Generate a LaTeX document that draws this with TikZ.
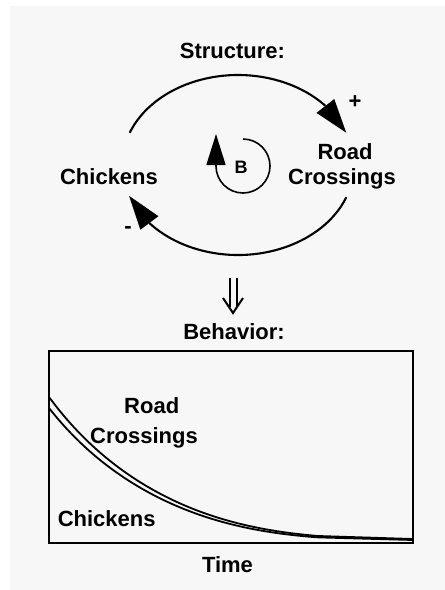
\documentclass[tikz,border=0pt]{standalone}
\usepackage{fontspec}
\setmainfont{Liberation Sans}
\usetikzlibrary{arrows.meta,bending}
\definecolor{bg}{HTML}{F7F7F7}
\begin{document}
\begin{tikzpicture}[x=1pt,y=1pt,
  lbl/.style={font=\fontsize{22}{26}\selectfont\bfseries, inner sep=0pt, anchor=base},
  sign/.style={font=\fontsize{22}{26}\selectfont\bfseries, inner sep=0pt, anchor=center},
  link/.style={line width=2.1pt, -{Triangle[length=34pt,width=22pt]}},
  curve/.style={line width=1.8pt},
  frame/.style={line width=2pt}]
\useasboundingbox (0,0) rectangle (445,-590);
\fill[white] (0,0) rectangle (445,-590);
\fill[bg] (10,-6) rectangle (445,-590);

% structure
\node[lbl] (structure) at (232.5,-58) {Structure:};
\node[lbl] (chickens) at (109,-184) {Chickens};
\node[lbl] (road) at (345,-159) {Road};
\node[lbl] (crossings) at (342,-184) {Crossings};
\node[sign] (plus) at (355,-102) {+};
\node[sign] (minus) at (128,-230) {-};

\coordinate (C) at (238,-165);
\path (C) ++(159:116 and 90) coordinate (a1);
\path (C) ++(-21:116 and 90) coordinate (b1);
\draw[link] (a1) arc[start angle=159,end angle=21,x radius=116,y radius=90];
\draw[link] (b1) arc[start angle=-21,end angle=-160,x radius=116,y radius=90];

% B loop
\coordinate (L) at (243,-166);
\node[font=\fontsize{18}{21}\selectfont\bfseries, inner sep=0pt, anchor=base] (B) at (241,-173) {B};
\draw[line width=1.6pt, -{Triangle[length=31pt,width=19pt]}] (L) ++(0,27) arc[start angle=90,end angle=-180,radius=27] -- ++(0,32);

% double arrow
\coordinate (dtop) at (233,-278);
\coordinate (dtip) at (233,-313);
\draw[line width=2pt] ([xshift=-3.5pt]dtop) -- ++(0,-29);
\draw[line width=2pt] ([xshift=3.5pt]dtop) -- ++(0,-29);
\draw[line width=2pt, line join=miter] ([shift={(-10,15)}]dtip) -- (dtip) -- ([shift={(10,15)}]dtip);

% behavior
\node[lbl] (behavior) at (234,-339) {Behavior:};
\coordinate (g1) at (49,-351);
\coordinate (g2) at (413,-543);
\draw[frame] (g1) rectangle (g2);

\draw[curve] plot[domain=0:269, samples=80] ({49+\x}, {-(540-143*exp(-0.0095*\x-0.052*(\x/100)^3))}) -- (413,-539);
\draw[curve] plot[domain=0:269, samples=80] ({49+\x}, {-(540-143*exp(-0.0095*\x-0.052*(\x/100)^3)+11*exp(-\x/130))}) -- (413,-540);

\node[lbl] (groad) at (151.7,-413) {Road};
\node[lbl] (gcross) at (144,-443) {Crossings};
\node[lbl] (gchick) at (106.7,-526) {Chickens};
\node[lbl] (time) at (227.5,-572) {Time};
\end{tikzpicture}
\end{document}
